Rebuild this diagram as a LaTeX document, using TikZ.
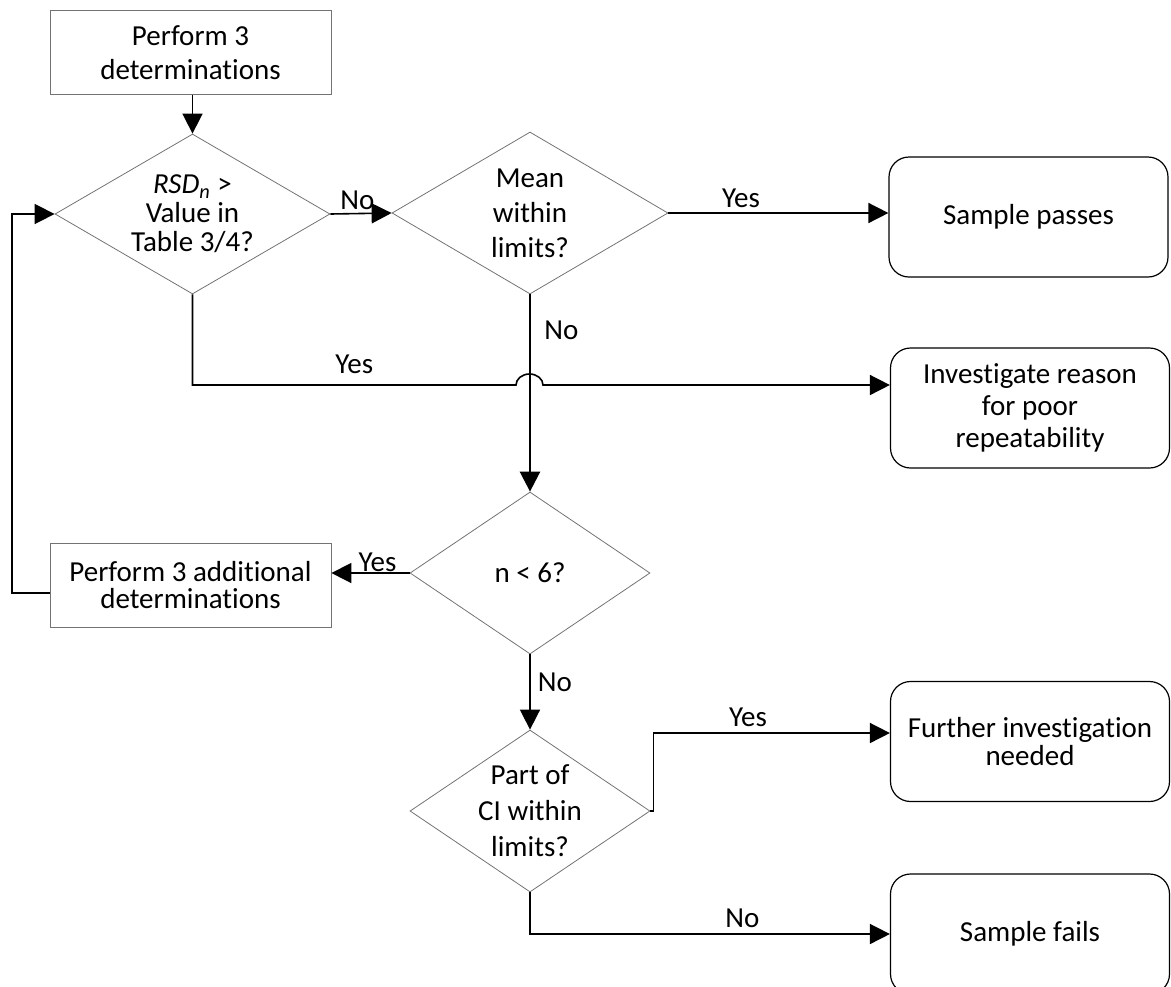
\documentclass[tikz,border=0pt]{standalone}
\usepackage{fontspec}
\setmainfont{Carlito}[Ligatures=NoCommon]
\usetikzlibrary{shapes.geometric, arrows.meta}

\begin{document}
\begin{tikzpicture}[x=0.5pt, y=-0.5pt,
  every node/.style={font=\fontsize{14.5}{17}\selectfont},
  decision/.style={diamond, draw=black!55, line width=0.4pt, aspect=1.6, inner sep=-3pt, align=center},
  process/.style={rectangle, draw=black!55, line width=0.4pt, minimum width=140.5pt, minimum height=42pt, align=center},
  outcome/.style={rectangle, rounded corners=10pt, draw, line width=0.6pt, minimum width=139.5pt, minimum height=60pt, align=center},
  conn/.style={line width=0.8pt, -{Triangle[length=10pt, width=10pt]}},
  lbl/.style={inner sep=0pt}]
\useasboundingbox (0,0) rectangle (1171,986);

\node[process] (start) at (190.5,52.5) {Perform 3\\determinations};
\node[decision, minimum width=137.5pt, minimum height=80pt, font=\fontsize{14.5}{14.5}\selectfont] (rsd) at (192.5,214) {\textit{RSD\textsubscript{n}} >\\Value in\\Table 3/4?};
\node[decision, minimum width=138pt, minimum height=81pt, font=\fontsize{14.5}{17.5}\selectfont] (mean) at (530,213) {Mean\\within\\limits?};
\node[outcome] (passes) at (1028.5,217) {Sample passes};
\node[outcome, font=\fontsize{14.5}{16}\selectfont] (invest) at (1030,408) {Investigate reason\\for poor\\repeatability};
\node[decision, aspect=1.5, minimum width=120pt, minimum height=81pt] (count) at (530,573) {n < 6?};
\node[process, font=\fontsize{14.5}{13.5}\selectfont] (more) at (190.5,585) {Perform 3 additional\\determinations};
\node[decision, aspect=1.5, minimum width=120pt, minimum height=81pt, font=\fontsize{14.5}{18}\selectfont] (ci) at (530,811) {Part of\\CI within\\limits?};
\node[outcome, font=\fontsize{14.5}{14}\selectfont] (further) at (1030,741.5) {Further investigation\\needed};
\node[outcome] (fails) at (1030,934) {Sample fails};

\coordinate (hopL) at (516,385);
\coordinate (loopturn) at (12,593);

\draw[conn] (start.south -| rsd.north) -- (rsd.north);
\draw[conn] (rsd.east) -- node[lbl, pos=0.44, above=1.5pt] {No} (mean.west);
\draw[conn] (mean.east) -- node[lbl, pos=0.33, above=2pt] {Yes} (mean.east -| passes.west);
\draw[conn] (rsd.south) |- node[lbl, pos=0.75, above=5pt] {Yes} (hopL)
  arc[start angle=180, end angle=0, x radius=6.75pt, y radius=5.5pt] -- (hopL -| invest.west);
\draw[conn, line width=1.3pt] (mean.south) -- node[lbl, pos=0.18, right=6.5pt] {No} (count.north);
\draw[conn] (count.west) -- node[lbl, pos=0.41, above=0.5pt] {Yes} (count.west -| more.east);
\draw[conn] (more.west |- loopturn) -- (loopturn) |- (rsd.west);
\draw[conn] (count.south) -- node[lbl, pos=0.37, right=3.5pt] {No} (ci.north);
\draw[conn] (ci.east) -- ++(3,0) |- node[lbl, pos=0.7, above=3pt] {Yes} ([yshift=4.25pt]further.west);
\draw[conn] (ci.south) |- node[lbl, pos=0.795, above=3pt] {No} (fails.west);
\end{tikzpicture}
\end{document}
